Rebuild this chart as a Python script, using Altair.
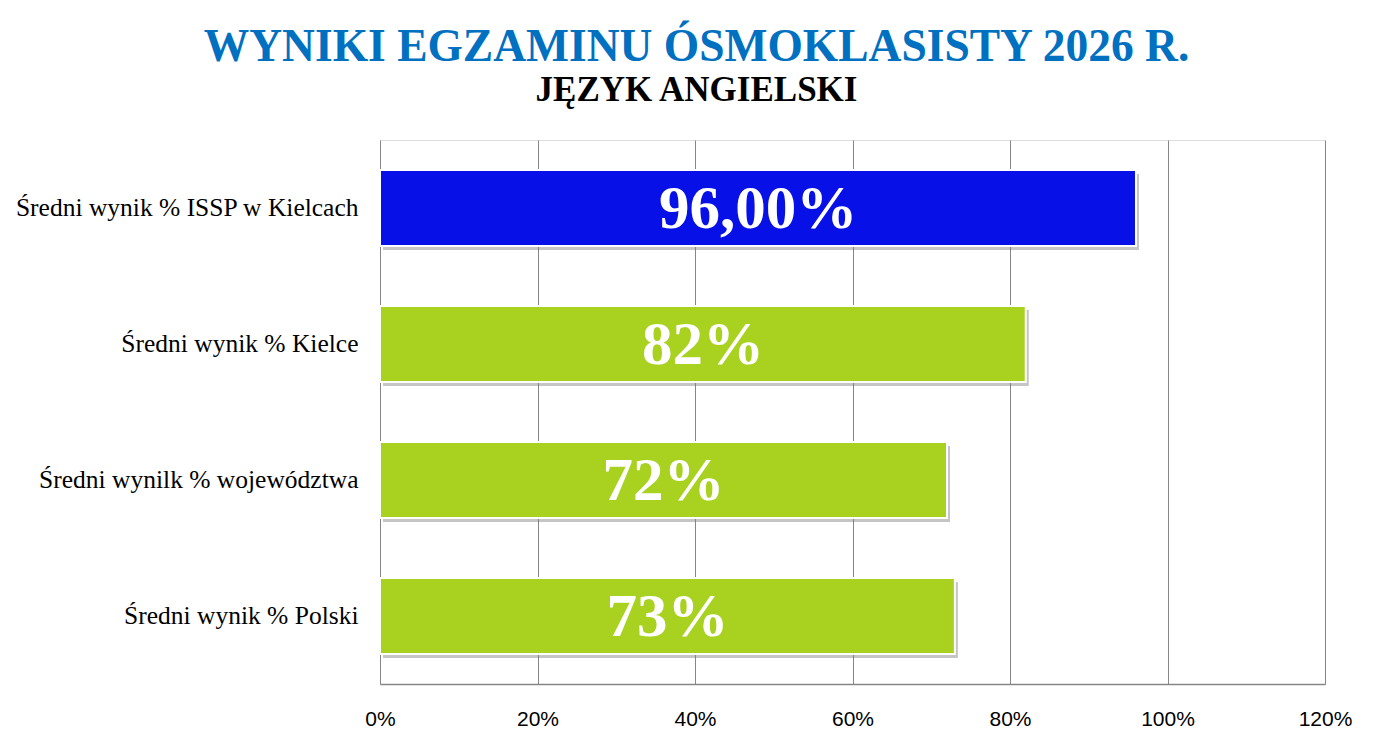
import altair as alt
import pandas as pd

categories = [
    "Średni wynik % ISSP w Kielcach",
    "Średni wynik % Kielce",
    "Średni wynilk % województwa",
    "Średni wynik % Polski",
]
values = [0.96, 0.82, 0.72, 0.73]
labels = ["96,00%", "82%", "72%", "73%"]
groups = ["ISSP", "inne", "inne", "inne"]
x_ticks = [0, 0.2, 0.4, 0.6, 0.8, 1.0, 1.2]

df = pd.DataFrame({"kat": categories, "wynik": values, "etykieta": labels, "grupa": groups})

y_scale = alt.Scale(paddingInner=0.44, paddingOuter=0.22)
x_scale = alt.Scale(domain=[0, 1.2], nice=False)

y_enc = alt.Y(
    "kat:N",
    sort=None,
    title=None,
    scale=y_scale,
    axis=alt.Axis(
        labelFont="Liberation Serif",
        labelFontSize=25.5,
        labelColor="#000000",
        labelPadding=22,
        ticks=False,
        domain=False,
        grid=False,
        labelLimit=400,
    ),
)
x_axis = alt.Axis(
    values=x_ticks,
    format=".0%",
    grid=True,
    gridColor="#868686",
    gridWidth=1,
    domainColor="#868686",
    domainWidth=1.5,
    ticks=False,
    labelFont="Liberation Sans",
    labelFontSize=21,
    labelColor="#000000",
    labelPadding=24,
    labelFlush=False,
)

base = alt.Chart(df)

shadow = base.mark_bar(color="#7f7f7f", opacity=0.45, xOffset=3, yOffset=4, x2Offset=3).encode(
    y=y_enc,
    x=alt.X("wynik:Q", title=None, scale=x_scale, axis=x_axis),
    x2=alt.datum(0),
)

bars = base.mark_bar(stroke="#ffffff", strokeWidth=2).encode(
    y=y_enc,
    x=alt.X("wynik:Q", title=None, scale=x_scale, axis=x_axis),
    color=alt.Color(
        "grupa:N",
        scale=alt.Scale(domain=["ISSP", "inne"], range=["#0810E8", "#A8D120"]),
        legend=None,
    ),
)

text = base.transform_calculate(srodek="datum.wynik / 2").mark_text(
    font="Liberation Serif",
    fontSize=61,
    fontWeight="bold",
    color="#ffffff",
    baseline="middle",
    align="center",
    dy=2,
).encode(
    y=y_enc,
    x=alt.X("srodek:Q", title=None, scale=x_scale, axis=x_axis),
    text="etykieta:N",
)

chart = (
    alt.layer(shadow, bars, text)
    .properties(
        width=945,
        height=544,
        padding={"left": 372, "top": 132, "right": 62, "bottom": 57},
        autosize=alt.AutoSizeParams(type="none"),
        title=alt.TitleParams(
            text="WYNIKI EGZAMINU ÓSMOKLASISTY 2026 R.",
            subtitle="JĘZYK ANGIELSKI",
            font="Liberation Serif",
            fontSize=45.5,
            fontWeight="bold",
            color="#0070C0",
            subtitleFont="Liberation Serif",
            subtitleFontSize=35,
            subtitleFontWeight="bold",
            subtitleColor="#000000",
            subtitlePadding=3,
            anchor="middle",
            frame="group",
            dx=-156,
            offset=32,
        ),
    )
    .configure_view(strokeWidth=0, strokeOpacity=0)
    .configure(background="#ffffff")
)

chart.save("out.html", embed_options={"renderer": "svg", "actions": False})
